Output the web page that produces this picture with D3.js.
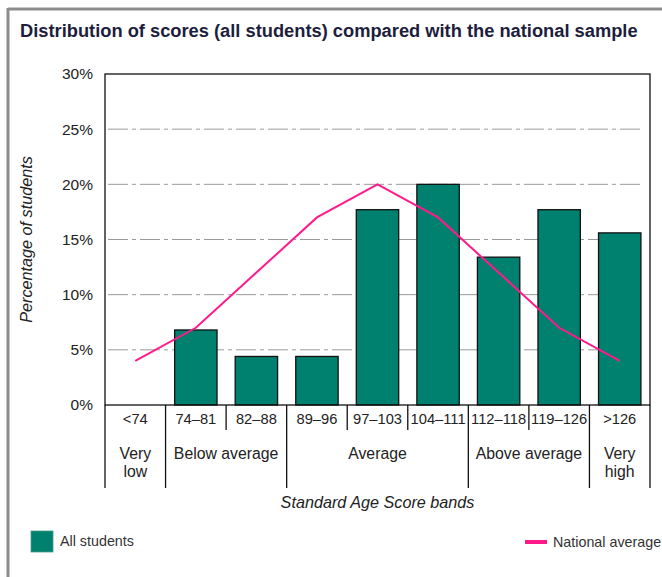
<!DOCTYPE html>
<html><head><meta charset="utf-8">
<script src="https://cdn.jsdelivr.net/npm/d3@7"></script>
<style>body{margin:0;background:#fff;} svg{display:block;font-family:Arial,"Liberation Sans",sans-serif;}</style>
</head><body><svg id="c" width="662" height="577"></svg>
<script>
const categories = ["<74","74–81","82–88","89–96","97–103","104–111","112–118","119–126",">126"];
const allStudents = [0, 6.8, 4.4, 4.4, 17.7, 20.0, 13.4, 17.7, 15.6];
const nationalAverage = [4, 7, 12, 17, 20, 17, 12, 7, 4];
const yTicks = [0, 5, 10, 15, 20, 25, 30];
const groups = [
  {lines:["Very","low"], from:0, to:0},
  {lines:["Below average"], from:1, to:2},
  {lines:["Average"], from:3, to:5},
  {lines:["Above average"], from:6, to:7},
  {lines:["Very","high"], from:8, to:8}
];
const title = "Distribution of scores (all students) compared with the national sample";

const svg = d3.select("#c");
const L = 105, R = 650, T = 74, B = 405;
const x = d3.scaleBand().domain(categories).range([L, R]).paddingInner(0.3).paddingOuter(0.15);
const xc = d3.scaleBand().domain(categories).range([L, R]);
const y = d3.scaleLinear().domain([0, 30]).range([B, T]);

// outer frame
svg.append("line").attr("x1",8).attr("x2",662).attr("y1",9).attr("y2",9).attr("stroke","#8c8c8c").attr("stroke-width",3);
svg.append("line").attr("x1",8).attr("x2",8).attr("y1",8).attr("y2",577).attr("stroke","#8c8c8c").attr("stroke-width",3);

svg.append("text").attr("x",20).attr("y",37).attr("font-size","18.3px").attr("font-weight","bold")
  .attr("fill","#1d1d3d").text(title);

// gridlines
svg.append("g").selectAll("line").data(yTicks.filter(d=>d>0 && d<30)).join("line")
  .attr("x1",L+3).attr("x2",R-6).attr("y1",d=>y(d)).attr("y2",d=>y(d))
  .attr("stroke","#9a9a9a").attr("stroke-width",1).attr("stroke-dasharray","20,4,4,4");

// y axis labels
const yAxis = d3.axisLeft(y).tickValues(yTicks).tickFormat(d=>d+"%").tickSize(0).tickPadding(12);
const ga = svg.append("g").attr("transform",`translate(${L},0)`).call(yAxis);
ga.select(".domain").remove();
ga.selectAll("text").attr("font-size","15.5px").attr("fill","#222").attr("font-family","Arial, Liberation Sans, sans-serif");

// bars
svg.append("g").selectAll("rect").data(categories.map((c,i)=>({c,v:allStudents[i]})).filter(d=>d.v>0)).join("rect")
  .attr("x",d=>x(d.c)).attr("width",x.bandwidth()).attr("y",d=>y(d.v)).attr("height",d=>y(0)-y(d.v))
  .attr("fill","#00806e").attr("stroke","#111").attr("stroke-width",1.3);

// plot box
svg.append("rect").attr("x",L).attr("y",T).attr("width",R-L).attr("height",B-T).attr("fill","none").attr("stroke","#111").attr("stroke-width",1.3);

// national line
const line = d3.line().x((d,i)=>xc(categories[i])+xc.bandwidth()/2).y(d=>y(d));
svg.append("path").datum(nationalAverage).attr("d",line).attr("fill","none").attr("stroke","#ff1a8c").attr("stroke-width",2);

// category table
const bounds = d3.range(categories.length+1).map(i=> i<categories.length ? xc(categories[i]) : R);
const longIdx = new Set([0]);
groups.forEach(g=>{longIdx.add(g.from); longIdx.add(g.to+1);});
svg.append("g").selectAll("line").data(bounds).join("line")
  .attr("x1",d=>d).attr("x2",d=>d).attr("y1",B).attr("y2",(d,i)=>longIdx.has(i)?488:430)
  .attr("stroke","#111").attr("stroke-width",1.3);
svg.append("g").selectAll("text").data(categories).join("text")
  .attr("x",d=>xc(d)+xc.bandwidth()/2).attr("y",424).attr("text-anchor","middle")
  .attr("font-size","14.7px").attr("fill","#222").text(d=>d);
const gg = svg.append("g").selectAll("text").data(groups).join("text")
  .attr("x",g=>(bounds[g.from]+bounds[g.to+1])/2).attr("y",459).attr("text-anchor","middle")
  .attr("font-size","15.8px").attr("fill","#222");
gg.selectAll("tspan").data(g=>g.lines).join("tspan")
  .attr("x",function(){return this.parentNode.getAttribute("x");}).attr("dy",(d,i)=>i?17.5:0).text(d=>d);

// axis titles
svg.append("text").attr("x",(L+R)/2).attr("y",508).attr("text-anchor","middle").attr("font-style","italic")
  .attr("font-size","16.2px").attr("fill","#222").text("Standard Age Score bands");
svg.append("text").attr("transform",`translate(32,${(T+B)/2}) rotate(-90)`).attr("text-anchor","middle")
  .attr("font-style","italic").attr("font-size","16.2px").attr("fill","#222").text("Percentage of students");

// legend
svg.append("rect").attr("x",31).attr("y",531).attr("width",22).attr("height",21).attr("fill","#00806e").attr("stroke","#4a9a8c").attr("stroke-width",0.8);
svg.append("text").attr("x",60).attr("y",546).attr("font-size","14.3px").attr("fill","#333").text("All students");
svg.append("line").attr("x1",525).attr("x2",547).attr("y1",542).attr("y2",542).attr("stroke","#ff1a8c").attr("stroke-width",4);
svg.append("text").attr("x",553).attr("y",547).attr("font-size","14.3px").attr("fill","#333").text("National average");
</script></body></html>
